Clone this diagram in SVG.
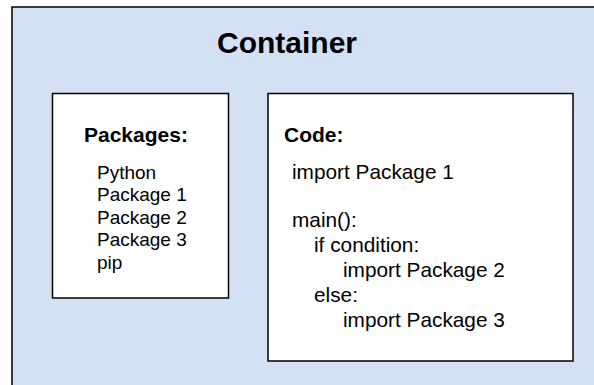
<svg xmlns="http://www.w3.org/2000/svg" width="594" height="385" viewBox="0 0 594 385">
<style>
.box{fill:#fff;stroke:#000;stroke-width:1.5}
.outer{fill:#D4E1F5;stroke:#000;stroke-width:1.5}
.h{font-family:"Liberation Sans",Arial,sans-serif;font-weight:bold;fill:#000}
.t{font-family:"Liberation Sans",Arial,sans-serif;fill:#000}
</style>
<g id="container">
<rect class="outer" x="12" y="7" width="620" height="420"/>
<text class="h" x="287" y="53" font-size="30" text-anchor="middle">Container</text>
</g>
<g id="packages">
<rect class="box" x="52.5" y="93.5" width="176" height="204.5"/>
<text class="h" x="84" y="141.5" font-size="21">Packages:</text>
<text class="t" font-size="19" x="97">
<tspan x="97" y="178.5">Python</tspan>
<tspan x="97" y="201">Package 1</tspan>
<tspan x="97" y="223.5">Package 2</tspan>
<tspan x="97" y="246">Package 3</tspan>
<tspan x="97" y="268.5">pip</tspan>
</text>
</g>
<g id="code">
<rect class="box" x="268" y="93.5" width="305" height="267.5"/>
<text class="h" x="284" y="141.5" font-size="21">Code:</text>
<text class="t" font-size="20.8">
<tspan x="292" y="178.5">import Package 1</tspan>
<tspan x="292" y="227">main():</tspan>
<tspan x="314" y="252">if condition:</tspan>
<tspan x="343" y="277">import Package 2</tspan>
<tspan x="314" y="302">else:</tspan>
<tspan x="343" y="327">import Package 3</tspan>
</text>
</g>
<g id="connectors"/>
</svg>
